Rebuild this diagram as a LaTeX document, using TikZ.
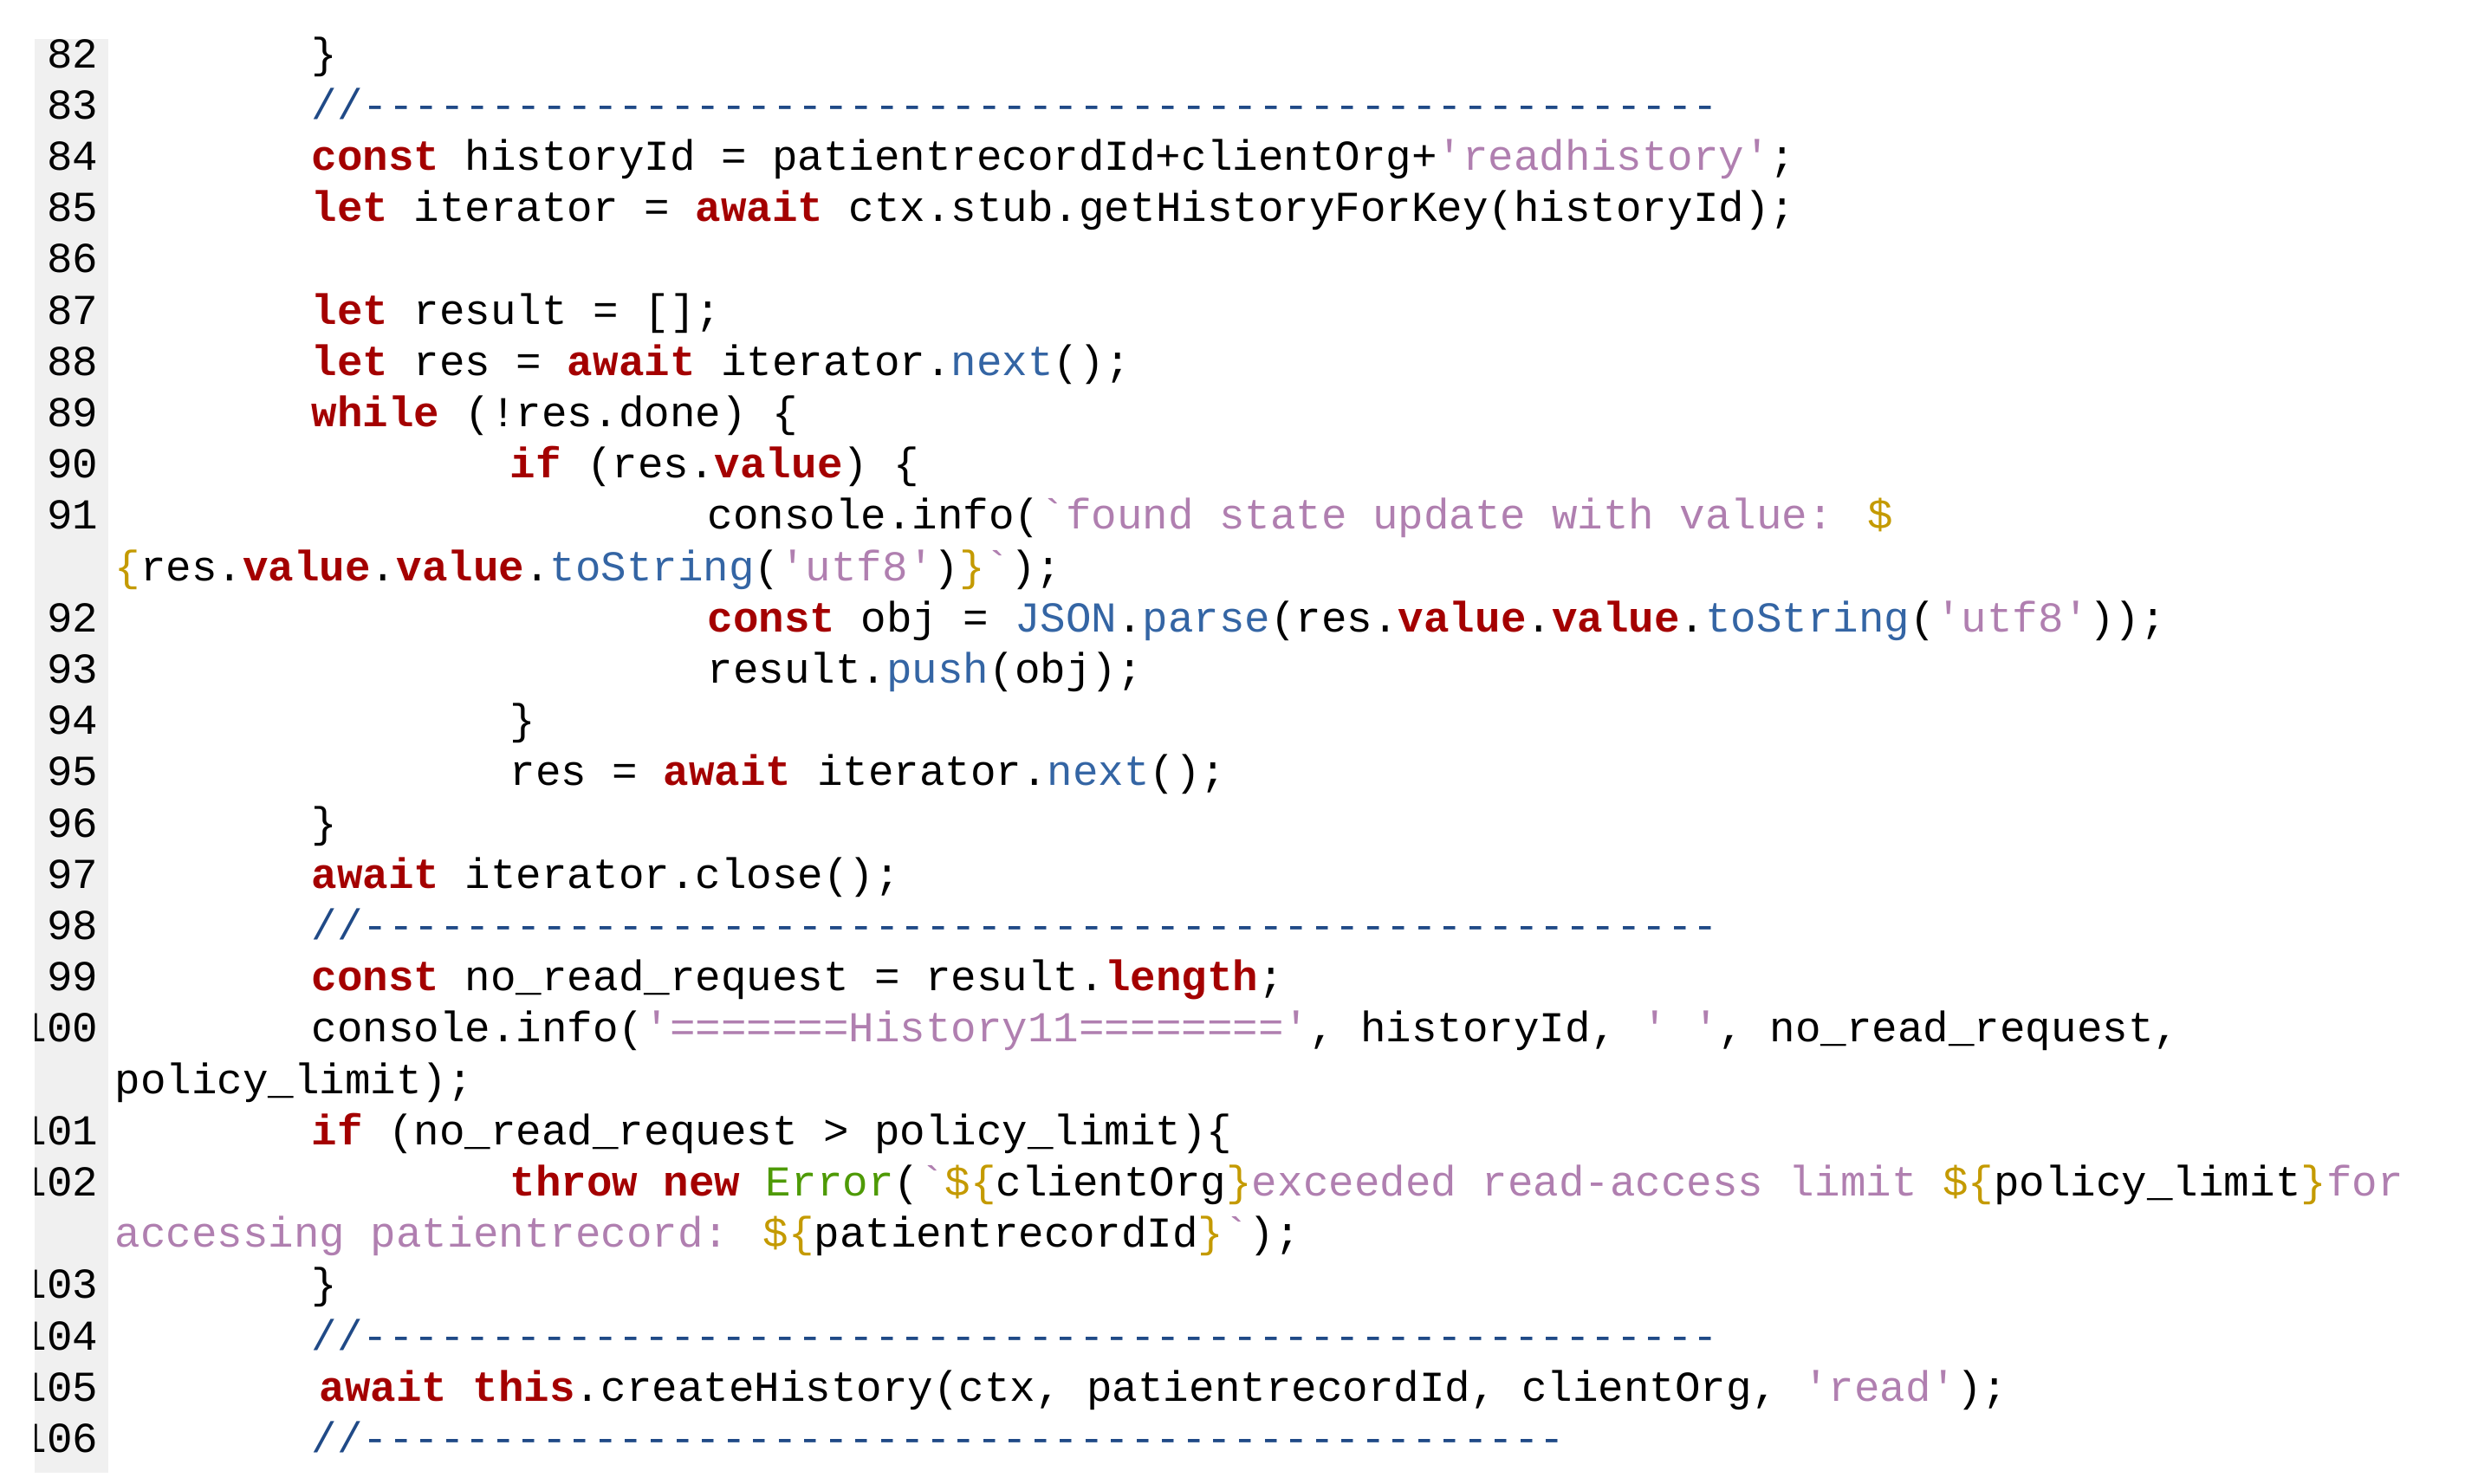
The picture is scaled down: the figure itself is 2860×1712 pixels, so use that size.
\documentclass[tikz,border=0pt]{standalone}
\usepackage{fontspec}
\newfontfamily\codefont{Liberation Mono}
\definecolor{kwc}{HTML}{A40000}
\definecolor{stc}{HTML}{B07FB0}
\definecolor{fnc}{HTML}{3465A4}
\definecolor{ipc}{HTML}{C49A00}
\definecolor{cmc}{HTML}{204A87}
\definecolor{tyc}{HTML}{4E9A06}
\definecolor{gutter}{HTML}{F0F0F0}
\newcommand{\kw}[1]{\textcolor{kwc}{\bfseries #1}}
\newcommand{\sq}[1]{\textcolor{stc}{#1}}
\newcommand{\fn}[1]{\textcolor{fnc}{#1}}
\newcommand{\ip}[1]{\textcolor{ipc}{#1}}
\newcommand{\ty}[1]{\textcolor{tyc}{#1}}
\newcommand{\cmline}[1]{\textcolor{cmc}{//#1}}
\begin{document}
\begin{tikzpicture}[x=0.1mm,y=-0.1mm,
  codeline/.style={inner sep=0pt,anchor=base west,font=\codefont\fontsize{14pt}{14pt}\selectfont},
  lnum/.style={inner sep=0pt,anchor=base east,font=\codefont\fontsize{14pt}{14pt}\selectfont}]
\useasboundingbox (0,0) rectangle (2860,1712);
\fill[gutter] (40,45) rectangle (125,1700);
\def\LA{359}\def\LB{588}\def\LC{816}\def\LW{132}
\begin{scope}
\clip (40,0) rectangle (2860,1712);
\foreach \n/\k in {82/0,83/1,84/2,85/3,86/4,87/5,88/6,89/7,90/8,91/9,92/11,93/12,94/13,95/14,96/15,97/16,98/17,99/18,100/19,101/21,102/22,103/24,104/25,105/26,106/27}
  \node[lnum] (n\n) at (114,{78+59.2*\k}) {\n};
\end{scope}
\node[codeline] (l82) at (\LA,{78+59.2*0}) {\}};
\node[codeline] (l83) at (\LA,{78+59.2*1}) {\cmline{-----------------------------------------------------}};
\node[codeline] (l84) at (\LA,{78+59.2*2}) {\kw{const} historyId = patientrecordId+clientOrg+\sq{'readhistory'};};
\node[codeline] (l85) at (\LA,{78+59.2*3}) {\kw{let} iterator = \kw{await} ctx.stub.getHistoryForKey(historyId);};
\node[codeline] (l87) at (\LA,{78+59.2*5}) {\kw{let} result = [];};
\node[codeline] (l88) at (\LA,{78+59.2*6}) {\kw{let} res = \kw{await} iterator.\fn{next}();};
\node[codeline] (l89) at (\LA,{78+59.2*7}) {\kw{while} (!res.done) \{};
\node[codeline] (l90) at (\LB,{78+59.2*8}) {\kw{if} (res.\kw{value}) \{};
\node[codeline] (l91) at (\LC,{78+59.2*9}) {console.info(\sq{`found state update with value: }\ip{\$}};
\node[codeline] (l91b) at (\LW,{78+59.2*10}) {\ip{\{}res.\kw{value}.\kw{value}.\fn{toString}(\sq{'utf8'})\ip{\}}\sq{`});};
\node[codeline] (l92) at (\LC,{78+59.2*11}) {\kw{const} obj = \fn{JSON}.\fn{parse}(res.\kw{value}.\kw{value}.\fn{toString}(\sq{'utf8'}));};
\node[codeline] (l93) at (\LC,{78+59.2*12}) {result.\fn{push}(obj);};
\node[codeline] (l94) at (\LB,{78+59.2*13}) {\}};
\node[codeline] (l95) at (\LB,{78+59.2*14}) {res = \kw{await} iterator.\fn{next}();};
\node[codeline] (l96) at (\LA,{78+59.2*15}) {\}};
\node[codeline] (l97) at (\LA,{78+59.2*16}) {\kw{await} iterator.close();};
\node[codeline] (l98) at (\LA,{78+59.2*17}) {\cmline{-----------------------------------------------------}};
\node[codeline] (l99) at (\LA,{78+59.2*18}) {\kw{const} no\_read\_request = result.\kw{length};};
\node[codeline] (l100) at (\LA,{78+59.2*19}) {console.info(\sq{'=======History11========'}, historyId, \sq{'\ '}, no\_read\_request,};
\node[codeline] (l100b) at (\LW,{78+59.2*20}) {policy\_limit);};
\node[codeline] (l101) at (\LA,{78+59.2*21}) {\kw{if} (no\_read\_request > policy\_limit)\{};
\node[codeline] (l102) at (\LB,{78+59.2*22}) {\kw{throw} \kw{new} \ty{Error}(\sq{`}\ip{\$\{}clientOrg\ip{\}}\sq{ exceeded read-access limit }\ip{\$\{}policy\_limit\ip{\}}\sq{ for}};
\node[codeline] (l102b) at (\LW,{78+59.2*23}) {\sq{accessing patientrecord: }\ip{\$\{}patientrecordId\ip{\}}\sq{`});};
\node[codeline] (l103) at (\LA,{78+59.2*24}) {\}};
\node[codeline] (l104) at (\LA,{78+59.2*25}) {\cmline{-----------------------------------------------------}};
\node[codeline] (l105) at (368,{78+59.2*26}) {\kw{await} \kw{this}.createHistory(ctx, patientrecordId, clientOrg, \sq{'read'});};
\node[codeline] (l106) at (\LA,{78+59.2*27}) {\cmline{-----------------------------------------------}};
\end{tikzpicture}
\end{document}
